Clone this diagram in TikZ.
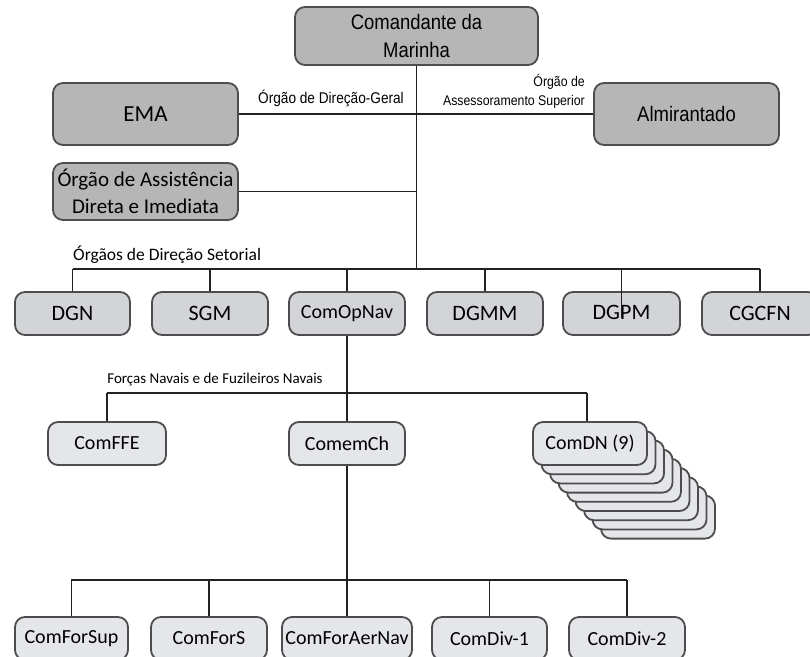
\documentclass[tikz,border=0pt]{standalone}
\usepackage{fontspec}
\setmainfont{Carlito}
\newfontfamily\narrowfont[FakeStretch=0.88]{Liberation Sans}
\usetikzlibrary{calc}
\definecolor{darkfill}{HTML}{B6B6B6}
\definecolor{midfill}{HTML}{D2D4D7}
\definecolor{lightfill}{HTML}{E4E6E9}
\definecolor{edgecol}{HTML}{4D4D4D}
\definecolor{linecol}{HTML}{222222}
\newcommand\bx[7]{\node[#6, minimum width={#4-#2}, minimum height={#5-#3}] (#1) at ({(#2+#4)/2},{(#3+#5)/2}) {#7};}
\begin{document}
\begin{tikzpicture}[x=1pt,y=-1pt,
  box/.style={draw=edgecol, line width=1.8pt, rounded corners=10pt, inner sep=0pt, align=center},
  dark/.style={box, fill=darkfill},
  mid/.style={box, fill=midfill, font=\fontsize{22}{26}\selectfont},
  light/.style={box, fill=lightfill, font=\fontsize{20}{24}\selectfont},
  conn/.style={draw=linecol, line width=1.8pt},
  lbl/.style={inner sep=0pt, align=center}]
\useasboundingbox (0,0) rectangle (810,656);

% top level
\bx{cmd}{295}{7}{538}{65}{dark, font=\narrowfont\fontsize{21}{28}\selectfont}{Comandante da\\Marinha}
\bx{ema}{53}{83}{238}{145}{dark, font=\fontsize{23}{27}\selectfont}{EMA}
\bx{alm}{594}{83}{779}{145}{dark, font=\narrowfont\fontsize{21}{25}\selectfont}{Almirantado}
\bx{aux}{53}{163}{238}{220}{dark, font=\fontsize{21}{27}\selectfont}{Órgão de Assistência\\Direta e Imediata}

\coordinate (busA) at (73,269);
\coordinate (busB) at (760,269);
\draw[conn] (cmd.south) -- (cmd.south |- busA);
\draw[conn] (ema.east) -- (alm.west);
\draw[conn] (aux.east) -- (aux.east -| cmd.south);
\draw[conn] (busA) -- (busB);

\node[lbl, font=\narrowfont\fontsize{15.5}{19}\selectfont] (lblDG) at (331,98) {Órgão de Direção-Geral};
\node[lbl, anchor=east, align=right, font=\narrowfont\fontsize{14}{19}\selectfont] (lblAS) at (585,91) {Órgão de\\Assessoramento Superior};
\node[lbl, anchor=west, font=\fontsize{17.5}{20}\selectfont] (lblDS) at (73,255) {Órgãos de Direção Setorial};

% sectoral row
\bx{dgn}{15}{292}{130}{335}{mid}{DGN}
\bx{sgm}{152}{292}{268}{335}{mid}{SGM}
\bx{cop}{289}{292}{405}{335}{mid, font=\fontsize{20}{24}\selectfont}{\raisebox{3pt}{ComOpNav}}
\bx{dgmm}{427}{292}{543}{335}{mid}{DGMM}
\bx{dgpm}{563}{292}{680}{335}{mid}{\raisebox{1.5pt}{DGPM}}
\bx{cgc}{702}{292}{818}{335}{mid}{CGCFN}

\foreach \n in {dgn,sgm,cop,dgmm,cgc}{
  \draw[conn] (\n.north |- busA) -- (\n.north);
}
\draw[conn] (dgpm.north |- busA) -- ($(dgpm.center)+(0,4.5)$);

% naval forces
\coordinate (fnA) at (107,393);
\coordinate (fnB) at (587,393);
\node[lbl, font=\fontsize{15}{18}\selectfont] (lblFN) at (215,380) {Forças Navais e de Fuzileiros Navais};

\foreach \k in {8,7,...,1}{
  \draw[box, fill=lightfill] ({533+8.5*\k},{422+9.2*\k}) rectangle ++(114,43);
}
\bx{ffe}{48}{422}{166}{465}{light}{ComFFE}
\bx{cch}{289}{422}{405}{465}{light}{ComemCh}
\bx{cdn}{533}{422}{647}{465}{light}{ComDN (9)}

\draw[conn] (cop.south) -- (cch.north);
\draw[conn] (fnA) -- (fnB);
\draw[conn] (fnA) -- (ffe.north);
\draw[conn] (fnB) -- (cdn.north -| fnB);

% bottom row
\coordinate (btA) at (71,580);
\coordinate (btB) at (627,580);
\bx{fsup}{15}{617}{128}{660}{light}{ComForSup}
\bx{fs}{151}{617}{267}{660}{light}{ComForS}
\bx{fan}{282}{617}{412}{660}{light}{ComForAerNav}
\bx{dv1}{432}{617}{547}{660}{light}{ComDiv-1}
\bx{dv2}{569}{617}{685}{660}{light}{ComDiv-2}

\draw[conn] (cch.south) -- (cch.south |- btA);
\draw[conn] (btA) -- (btB);
\foreach \n in {fsup,fs,fan,dv1,dv2}{
  \draw[conn] (\n.north |- btA) -- (\n.north);
}
\end{tikzpicture}
\end{document}
